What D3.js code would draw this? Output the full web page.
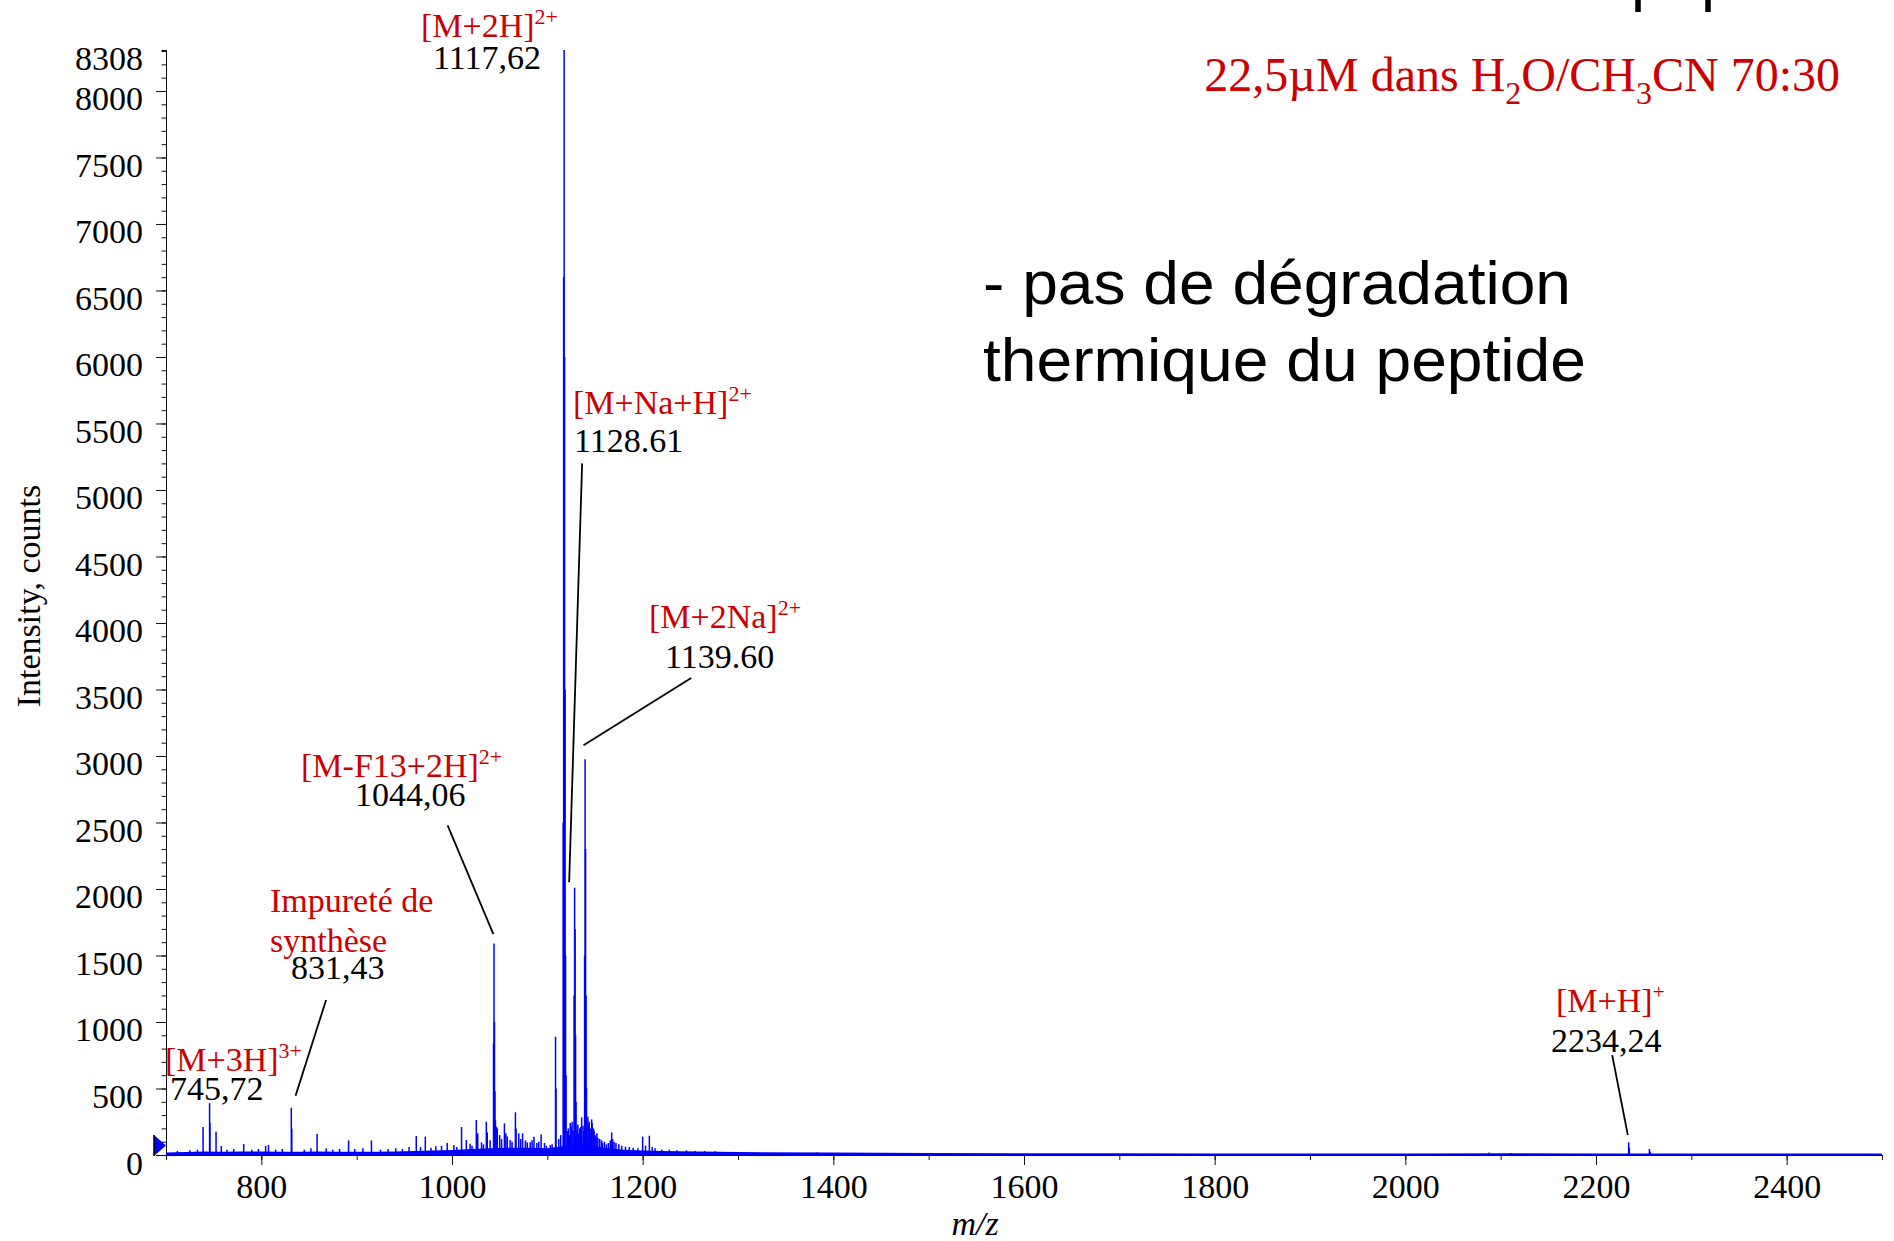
<!DOCTYPE html>
<html>
<head>
<meta charset="utf-8">
<script src="https://cdn.jsdelivr.net/npm/d3@7"></script>
<style>
  body { margin: 0; background: #fff; }
  svg { display: block; background: #fff; }
</style>
</head>
<body>
<div id="main"><svg width="1894" height="1241"></svg></div>
<script>
// peaks, [m/z, intensity (counts)]
var peaks = [
  [712, 30], [725, 35], [733, 40], [738.9, 210], [745.72, 390], [746.06, 240],
  [752.5, 175], [758, 68], [764, 40], [771, 45], [781.5, 83], [790, 40], [797, 45],
  [804.5, 68], [807.5, 75], [815, 40], [822, 45], [831.43, 355], [831.93, 200],
  [845, 40], [852, 50], [858.5, 158], [868, 50], [875, 40], [882, 45], [891.5, 110],
  [898, 45], [906.5, 50], [915.5, 110], [925, 40], [933, 45], [941, 50], [948, 45],
  [955, 60], [962.5, 143], [967, 60], [972, 138], [978, 55], [983, 65], [989, 68], [995, 90],
  [1002, 75], [1005, 60], [1010, 210], [1015, 113], [1019, 85], [1021, 70],
  [1025.5, 263], [1027, 163], [1031, 95], [1033, 80], [1036, 250], [1037, 170], [1040, 110],
  [1043.56, 840], [1044.06, 1590], [1044.56, 1000], [1045.06, 480], [1045.56, 260],
  [1046.5, 213], [1047.5, 200], [1050, 150], [1052, 120], [1055, 238], [1056.5, 163],
  [1058, 140], [1061, 113], [1063, 100], [1066.5, 321], [1067.2, 200], [1070, 163],
  [1072, 120], [1074, 163], [1077, 110], [1079, 95], [1082, 95], [1084, 110],
  [1086, 138], [1089, 90], [1091, 100], [1093.5, 155], [1097, 90], [1099, 70],
  [1103, 75], [1105, 80], [1108.6, 889], [1109.1, 500], [1112, 120], [1114, 150],
  [1116.62, 2500], [1117.12, 6600], [1117.62, 8308], [1118.12, 6000], [1118.62, 3500],
  [1119.12, 1500], [1119.6, 600], [1121, 180], [1122, 200], [1123, 150], [1124, 240],
  [1125, 210], [1126, 250], [1127, 180],
  [1128.11, 1200], [1128.61, 2010], [1129.11, 1700], [1129.61, 900], [1130.1, 400],
  [1131, 190], [1132, 230], [1133, 160], [1134, 200], [1135, 210], [1136, 283],
  [1137.5, 220], [1138, 180],
  [1139.1, 1500], [1139.6, 2975], [1140.1, 2300], [1140.6, 1200], [1141.1, 500],
  [1142.5, 288], [1143, 230], [1144, 250], [1145, 200], [1146.5, 268], [1147, 240],
  [1148.5, 200], [1149, 180], [1150, 150], [1151, 140], [1152, 163], [1153, 130],
  [1155, 120], [1157, 110], [1158, 90], [1160, 100], [1162, 80], [1164, 90],
  [1166, 110], [1167.5, 170], [1168.5, 120], [1170, 100], [1172, 90], [1175, 80],
  [1178, 70], [1182, 63], [1186, 60], [1190, 55], [1195, 50], [1200, 138],
  [1203, 70], [1207, 145], [1210, 60], [1213, 50], [1220, 40], [1228, 40],
  [1236, 35], [1246, 35], [1255, 30], [1265, 30], [1276, 28], [1383, 18],
  [2088, 18], [2111, 15], [2234.24, 95], [2235, 55], [2256, 45], [2257, 25]
]

// level of the noise band along the baseline
var noiseMz = [700, 720, 740, 760, 780, 800, 820, 840, 860, 880, 900, 920, 940, 960,
  980, 1000, 1020, 1040, 1060, 1080, 1100, 1120, 1140, 1160, 1180, 1200, 1220,
  1240, 1260, 1280, 1300, 1400, 1500, 1600, 1700, 1800, 1900, 2000, 2100, 2200,
  2300, 2400, 2500]
var noiseCounts = [18, 22, 26, 24, 26, 26, 24, 24, 26, 24, 24, 24, 26, 30,
  34, 38, 45, 50, 55, 55, 50, 70, 80, 55, 40, 34, 30,
  28, 26, 24, 22, 18, 15, 14, 13, 12, 12, 12, 13, 12,
  12, 11, 11]

var xTickLabels = [800, 1000, 1200, 1400, 1600, 1800, 2000, 2200, 2400]
var yTickLabels = [0, 500, 1000, 1500, 2000, 2500, 3000, 3500, 4000, 4500, 5000,
  5500, 6000, 6500, 7000, 7500, 8000]
var yMax = 8308

var ionNames = ['[M+3H]', 'Impureté de\nsynthèse', '[M-F13+2H]', '[M+2H]',
  '[M+Na+H]', '[M+2Na]', '[M+H]']
var ionCharges = ['3+', '', '2+', '2+', '2+', '2+', '+']
var ionMasses = ['745,72', '831,43', '1044,06', '1117,62', '1128.61', '1139.60', '2234,24']

var config = {
  plot: { left: 166, right: 1882, top: 50, bottom: 1155 },
  red: '#cc0000',
  blue: '#0000ff',
  serif: '"Liberation Serif", "Times New Roman", serif',
  sans: '"Liberation Sans", Arial, sans-serif',
  // text positions of each ion label (name line, then mass line)
  labels: [
    { x: 165, y: 1071, mx: 170, my: 1100 },
    { x: 270, y: 912, mx: 291, my: 979 },
    { x: 301, y: 777, mx: 355, my: 806 },
    { x: 421, y: 37, mx: 433, my: 69 },
    { x: 573, y: 414, mx: 574, my: 452 },
    { x: 649, y: 628, mx: 665, my: 668 },
    { x: 1556, y: 1012, mx: 1551, my: 1052 }
  ],
  // leader lines, both ends in data units [m/z, counts]
  leaders: [
    [[867.9, 1165], [835.9, 445]],
    [[995.4, 2479], [1043.4, 1660]],
    [[1136.5, 5200], [1122.9, 2051]],
    [[1250.9, 3587], [1138.0, 3080]],
    [[2217, 751], [2233.4, 150]]
  ]
}

var svg = d3.select('#main svg')

var x = d3.scaleLinear()
    .domain([700, 2500])
    .range([config.plot.left, config.plot.right])

var y = d3.scaleLinear()
    .domain([0, yMax])
    .range([config.plot.bottom, config.plot.top])

function renderAxes () {
  // minor ticks first, no labels
  var xMinor = svg.append('g')
      .attr('transform', `translate(0, ${config.plot.bottom})`)
      .call(d3.axisBottom(x).tickValues(d3.range(700, 2501, 100)).tickSize(5).tickSizeOuter(0).tickFormat(''))
  var xMajor = svg.append('g')
      .attr('transform', `translate(0, ${config.plot.bottom})`)
      .call(d3.axisBottom(x).tickValues(xTickLabels).tickSize(10).tickSizeOuter(0).tickFormat(d3.format('d')))
  xMajor.selectAll('text')
      .attr('y', 43)
      .attr('dy', null)

  var yMinor = svg.append('g')
      .attr('transform', `translate(${config.plot.left}, 0)`)
      .call(d3.axisLeft(y).tickValues(d3.range(0, 8301, 100)).tickSize(4.5).tickSizeOuter(0).tickFormat(''))
  var yMajor = svg.append('g')
      .attr('transform', `translate(${config.plot.left}, 0)`)
      .call(d3.axisLeft(y).tickValues(yTickLabels).tickSize(10).tickPadding(13).tickSizeOuter(0).tickFormat(d3.format('d')))
  var yTop = svg.append('g')
      .attr('transform', `translate(${config.plot.left}, 0)`)
      .call(d3.axisLeft(y).tickValues([yMax]).tickSize(4.5).tickPadding(18.5).tickSizeOuter(0).tickFormat(d3.format('d')))

  ;[yMajor, yTop].forEach(function (g) {
    g.selectAll('text').attr('dy', 19)
  })

  ;[xMinor, xMajor, yMinor, yMajor, yTop].forEach(function (g) {
    g.attr('font-family', config.serif)
      .attr('font-size', 34)
    g.selectAll('text').attr('fill', '#000')
    g.selectAll('line').attr('stroke', '#111')
    g.select('.domain').attr('stroke', '#111')
  })

  svg.append('text')
      .attr('transform', 'translate(40, 596) rotate(-90)')
      .attr('text-anchor', 'middle')
      .attr('font-family', config.serif)
      .attr('font-size', 34)
      .text('Intensity, counts')

  svg.append('text')
      .attr('x', 975)
      .attr('y', 1235)
      .attr('text-anchor', 'middle')
      .attr('font-family', config.serif)
      .attr('font-style', 'italic')
      .attr('font-size', 34)
      .text('m/z')
}

function renderSpectrum () {
  var noise = d3.area()
      .x((d, i) => x(noiseMz[i]))
      .y0(y(0))
      .y1(d => y(d))

  svg.append('path')
      .datum(noiseCounts)
      .attr('d', noise)
      .attr('fill', config.blue)

  svg.append('g')
      .selectAll('line')
      .data(peaks)
      .enter()
      .append('line')
      .attr('x1', d => x(d[0]))
      .attr('x2', d => x(d[0]))
      .attr('y1', y(0))
      .attr('y2', d => y(d[1]))
      .attr('stroke', config.blue)
      .attr('stroke-width', 1.5)

  // little blue marker at the foot of the y axis
  var x0 = x(700)
  var y0 = y(0)
  svg.append('path')
      .attr('d', `M${x0 - 12},${y0 - 20} L${x0},${y0 - 9.5} L${x0 - 12},${y0 + 1} Z`)
      .attr('fill', config.blue)
  svg.append('line')
      .attr('x1', x0 - 12).attr('x2', x0 - 12)
      .attr('y1', y0 - 20).attr('y2', y0 + 1)
      .attr('stroke', '#000')
      .attr('stroke-width', 1.5)
}

function renderLabels () {
  config.labels.forEach(function (l, i) {
    var t = svg.append('text')
        .attr('x', l.x)
        .attr('y', l.y)
        .attr('fill', config.red)
        .attr('font-family', config.serif)
        .attr('font-size', 34)

    ionNames[i].split('\n').forEach(function (s, j) {
      t.append('tspan')
          .attr('x', l.x)
          .attr('dy', j ? 40 : 0)
          .text(s)
    })
    if (ionCharges[i]) {
      t.append('tspan')
          .attr('dy', -13)
          .attr('font-size', 22)
          .text(ionCharges[i])
    }

    svg.append('text')
        .attr('x', l.mx)
        .attr('y', l.my)
        .attr('font-family', config.serif)
        .attr('font-size', 34)
        .text(ionMasses[i])
  })

  svg.append('g')
      .selectAll('line')
      .data(config.leaders)
      .enter()
      .append('line')
      .attr('x1', d => x(d[0][0]))
      .attr('y1', d => y(d[0][1]))
      .attr('x2', d => x(d[1][0]))
      .attr('y2', d => y(d[1][1]))
      .attr('stroke', '#000')
      .attr('stroke-width', 1.8)
}

function renderNotes () {
  var sub = svg.append('text')
      .attr('x', 1840)
      .attr('y', 91)
      .attr('text-anchor', 'end')
      .attr('fill', config.red)
      .attr('font-family', config.serif)
      .attr('font-size', 48)
  sub.append('tspan').text('22,5µM dans H')
  sub.append('tspan').attr('dy', 13).attr('font-size', 32).text('2')
  sub.append('tspan').attr('dy', -13).text('O/CH')
  sub.append('tspan').attr('dy', 13).attr('font-size', 32).text('3')
  sub.append('tspan').attr('dy', -13).text('CN 70:30')

  svg.append('text')
      .attr('x', 983)
      .attr('y', 304)
      .attr('font-family', config.sans)
      .attr('font-size', 62)
      .attr('textLength', 588)
      .attr('lengthAdjust', 'spacingAndGlyphs')
      .text('- pas de dégradation')

  svg.append('text')
      .attr('x', 983)
      .attr('y', 381)
      .attr('font-family', config.sans)
      .attr('font-size', 62)
      .attr('textLength', 603)
      .attr('lengthAdjust', 'spacingAndGlyphs')
      .text('thermique du peptide')

  // the slide title sits above the frame, only its descenders show
  svg.append('text')
      .attr('x', 1631)
      .attr('y', -1)
      .attr('font-family', config.sans)
      .attr('font-size', 63)
      .text('peptide')
}

renderAxes()
renderSpectrum()
renderLabels()
renderNotes()
</script>
</body>
</html>
